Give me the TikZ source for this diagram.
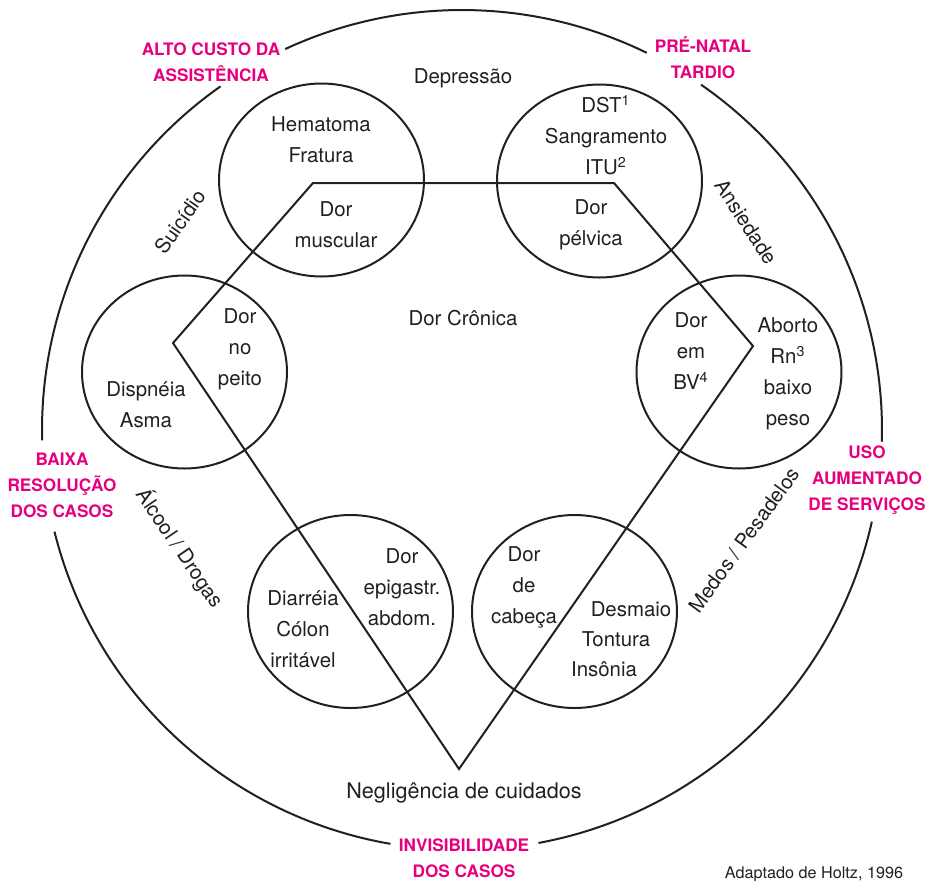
\documentclass[tikz,border=0pt]{standalone}
\usepackage{fontspec}
\setmainfont{TeX Gyre Heros}
\usepackage{tikz}
\usetikzlibrary{shapes.geometric}
\definecolor{rosa}{RGB}{230,0,126}
\definecolor{tinta}{RGB}{35,31,32}

\begin{document}
\begin{tikzpicture}[x=0.5pt,y=-0.5pt,
	bubble/.style={shape=ellipse,draw=tinta,line width=1pt,minimum width=102.5pt,minimum height=96.5pt,inner sep=0pt},
	lbl/.style={align=center,text=tinta,font=\fontsize{10.2}{15.5}\selectfont},
	alerta/.style={align=center,text=rosa,font=\bfseries\fontsize{8.6}{13}\selectfont}]
	\useasboundingbox (0,0) rectangle (928,880);

	% outer ring, broken at the pink labels
	\coordinate (o) at (462,430);
	\foreach \a/\b in {-63.9/-114.9, -125.1/-181.4, -194/-260.2, -280.5/-347.4, -358.4/-415.3}
		\draw[draw=tinta,line width=1pt] ([shift={(\a:420)}]o) arc[start angle=\a, end angle=\b, radius=420];

	\node[bubble] (hem) at (321.5,180)   {};
	\node[bubble] (dst) at (599.5,181)   {};
	\node[bubble] (dis) at (184.5,372)   {};
	\node[bubble] (abo) at (739,372)     {};
	\node[bubble] (dia) at (350.5,611.5) {};
	\node[bubble] (des) at (574.5,611.5) {};

	% the five-pointed frame of chronic pain
	\coordinate (pl) at (173,343);
	\coordinate (ptl) at (313,183);
	\coordinate (ptr) at (614,183);
	\coordinate (pr) at (753,346);
	\coordinate (pb) at (459,769);
	\draw[draw=tinta,line width=1pt] (pl) -- (ptl) -- (ptr) -- (pr) -- (pb) -- cycle;

	\node[lbl] (depr) at (463,78)   {Depressão};
	\node[lbl] (hemt) at (321,140)  {Hematoma\\Fratura};
	\node[lbl] (musc) at (336,225)  {Dor\\muscular};
	\node[lbl] (dstt) at (606,135)  {DST\textsuperscript{1}\\Sangramento\\ITU\textsuperscript{2}};
	\node[lbl] (pelv) at (591,225)  {Dor\\pélvica};
	\node[lbl] (cron) at (463,318)  {Dor Crônica};
	\node[lbl] (peit) at (240,349)  {Dor\\no\\peito};
	\node[lbl] (disp) at (146,405)  {Dispnéia\\Asma};
	\node[lbl] (bv)   at (691,351)  {Dor\\em\\BV\textsuperscript{4}};
	\node[lbl] (abor) at (788,374)  {Aborto\\Rn\textsuperscript{3}\\baixo\\peso};
	\node[lbl] (epig) at (402,587)  {Dor\\epigastr.\\abdom.};
	\node[lbl] (diar) at (303,629)  {Diarréia\\Cólon\\irritável};
	\node[lbl] (cabe) at (524,587)  {Dor\\de\\cabeça};
	\node[lbl] (desm) at (631,609)  {Desmaio};
	\node[lbl] (tont) at (616,639)  {Tontura};
	\node[lbl] (inso) at (604,669)  {Insônia};
	\node[lbl,font=\fontsize{10.8}{15.5}\selectfont] (negl) at (464,793) {Negligência de cuidados};

	\node[lbl,rotate=55]  (suic) at (180,222) {Suicídio};
	\node[lbl,rotate=-57] (ansi) at (746,222) {Ansiedade};
	\node[lbl,rotate=-56] (alco) at (180,548) {Álcool / Drogas};
	\node[lbl,rotate=54]  (medo) at (744,540) {Medos / Pesadelos};

	\node[alerta] (custo) at (211,62)  {ALTO CUSTO DA\\ASSISTÊNCIA};
	\node[alerta] (prena) at (703,58)  {PRÉ-NATAL\\TARDIO};
	\node[alerta] (baixa) at (62,485)  {BAIXA\\RESOLUÇÃO\\DOS CASOS};
	\node[alerta] (uso)   at (867,480) {USO\\AUMENTADO\\DE SERVIÇOS};
	\node[alerta] (invis) at (464,858) {INVISIBILIDADE\\DOS CASOS};

	\node[text=tinta,font=\fontsize{8.1}{10}\selectfont] (fonte) at (814,874) {Adaptado de Holtz, 1996};
\end{tikzpicture}
\end{document}
